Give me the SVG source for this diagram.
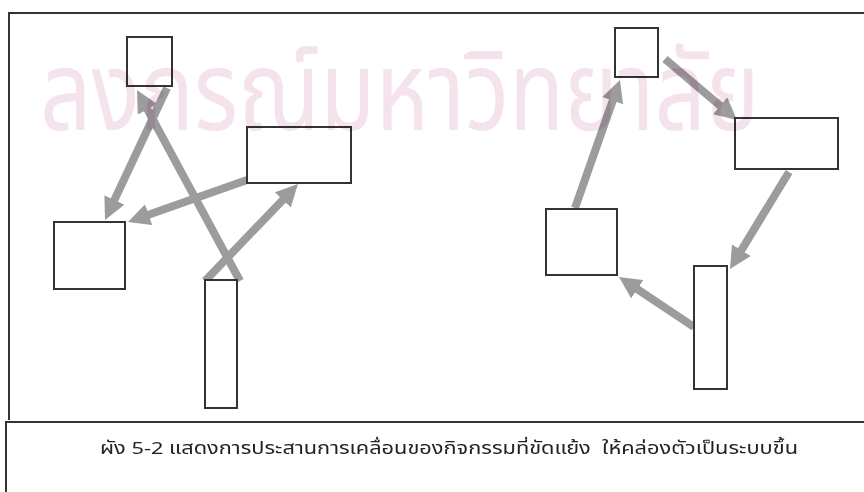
<svg xmlns="http://www.w3.org/2000/svg" width="864" height="492" viewBox="0 0 864 492">
<style>
.node{fill:#fff;stroke:#333;stroke-width:2}
.conn{stroke:#9c9c9c;stroke-width:8;fill:none;marker-end:url(#ah)}
.frame{stroke:#333;stroke-width:2;fill:none}
.wm{fill:#f4e2ed;font-family:"Noto Sans Thai","Noto Sans","DejaVu Sans",sans-serif;font-size:110px;mix-blend-mode:multiply}
.cap{fill:#222;font-family:"Noto Sans Thai","Noto Sans","DejaVu Sans",sans-serif;font-size:17px;white-space:pre}
</style>
<defs>
<marker id="ah" markerUnits="userSpaceOnUse" markerWidth="22" markerHeight="22" refX="10" refY="11" orient="auto" viewBox="0 0 22 22">
<path d="M0,0 L22,11 L0,22 z" fill="#9c9c9c"/>
</marker>
</defs>
<rect x="0" y="0" width="864" height="492" fill="#fff"/>
<g id="frame">
<path class="frame" d="M9,420 L9,13 L864,13"/>
<path class="frame" d="M6,492 L6,422 L864,422"/>
</g>
<g id="connectors">
<line class="conn" x1="167" y1="88" x2="110.1" y2="209.1"/>
<line class="conn" x1="247" y1="180" x2="139.3" y2="218"/>
<line class="conn" x1="240" y1="281" x2="142.7" y2="100.6"/>
<line class="conn" x1="205" y1="281" x2="289.7" y2="192.7"/>
<line class="conn" x1="575" y1="208" x2="616" y2="91.3"/>
<line class="conn" x1="665" y1="59" x2="727.8" y2="112.2"/>
<line class="conn" x1="789" y1="172" x2="736.2" y2="258.7"/>
<line class="conn" x1="694" y1="327" x2="629" y2="283.7"/>
</g>
<g id="L1"><rect class="node" x="127" y="37" width="45" height="49"/></g>
<g id="L2"><rect class="node" x="247" y="127" width="104" height="56"/></g>
<g id="L3"><rect class="node" x="54" y="222" width="71" height="67"/></g>
<g id="L4"><rect class="node" x="205" y="280" width="32" height="128"/></g>
<g id="R1"><rect class="node" x="615" y="28" width="43" height="49"/></g>
<g id="R2"><rect class="node" x="735" y="118" width="103" height="51"/></g>
<g id="R3"><rect class="node" x="546" y="209" width="71" height="66"/></g>
<g id="R4"><rect class="node" x="694" y="266" width="33" height="123"/></g>
<text class="wm" transform="translate(40,130) scale(0.82,1)" x="0" y="0">ลงกรณ์มหาวิทยาลัย</text>
<g id="caption">
<text class="cap" xml:space="preserve" x="100" y="454" textLength="698" lengthAdjust="spacingAndGlyphs">ผัง 5-2 แสดงการประสานการเคลื่อนของกิจกรรมที่ขัดแย้ง  ให้คล่องตัวเป็นระบบขึ้น</text>
</g>
</svg>
